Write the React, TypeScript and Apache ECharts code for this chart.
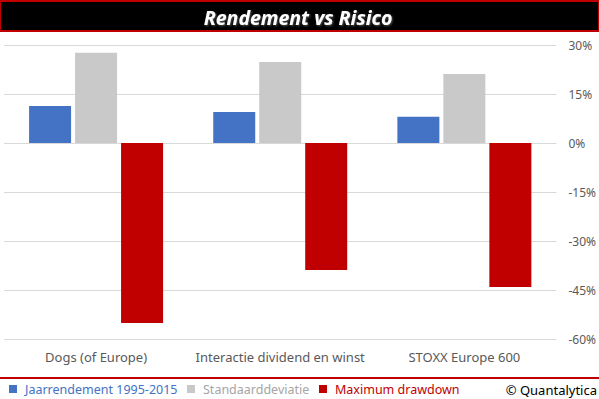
import React, { useEffect, useRef } from "react";
import * as echarts from "echarts";

const categories = ["Dogs (of Europe)", "Interactie dividend en winst", "STOXX Europe 600"];
const seriesNames = ["Jaarrendement 1995-2015", "Standaarddeviatie", "Maximum drawdown"];
const jaarrendement = [11.3, 9.5, 8.0];
const standaarddeviatie = [27.6, 24.8, 21.1];
const maxDrawdown = [-55.1, -38.9, -44.1];
const barColors = ["#4472c4", "#c9c9c9", "#c00000"];
const legendTextColors = ["#4472c4", "#a6a6a6", "#c00000"];
const legendLefts = [9, 187, 319];

const FONT = "'Noto Sans', 'Open Sans', sans-serif";

export default function App() {
  const ref = useRef<HTMLDivElement>(null);
  useEffect(() => {
    const chart = echarts.init(ref.current!, undefined, { renderer: "svg" });
    const values = [jaarrendement, standaarddeviatie, maxDrawdown];
    chart.setOption({
      animation: false,
      backgroundColor: "#ffffff",
      textStyle: { fontFamily: FONT },
      grid: { left: 4, right: 40, top: 45, bottom: 60 },
      xAxis: {
        type: "category",
        data: categories,
        axisLine: { show: false, onZero: false },
        axisTick: { show: false },
        axisLabel: { color: "#595959", fontSize: 13, margin: 11, interval: 0, fontFamily: FONT },
      },
      yAxis: {
        type: "value",
        position: "right",
        min: -60,
        max: 30,
        interval: 15,
        axisLine: { show: false },
        axisTick: { show: false },
        splitLine: { lineStyle: { color: "#d9d9d9", width: 1 } },
        axisLabel: {
          color: "#595959",
          fontSize: 12,
          margin: 12,
          fontFamily: FONT,
          formatter: (v: number) => `${v}%`,
        },
      },
      legend: seriesNames.map((n, i) => ({
        left: legendLefts[i],
        top: 381,
        padding: 0,
        itemWidth: 8,
        itemHeight: 8,
        icon: "rect",
        textStyle: { fontSize: 12.5, fontFamily: FONT, padding: [0, 0, 0, 3], lineHeight: 16, color: legendTextColors[i] },
        data: [n],
      })),
      series: seriesNames.map((name, i) => ({
        name,
        type: "bar",
        data: values[i],
        barWidth: 42,
        barGap: "9.5%",
        itemStyle: { color: barColors[i] },
      })),
      graphic: [
        { type: "rect", left: 0, top: 0, shape: { width: 599, height: 32 }, style: { fill: "#c00000" }, silent: true },
        { type: "rect", left: 1, top: 2, shape: { width: 597, height: 28 }, style: { fill: "#000000" }, silent: true },
        {
          type: "text",
          x: 298,
          y: 17,
          style: {
            text: "Rendement vs Risico",
            fill: "#ffffff",
            font: `italic bold 19.5px ${FONT}`,
            align: "center",
            verticalAlign: "middle",
            textShadowColor: "#555555",
            textShadowBlur: 2,
            textShadowOffsetX: 1,
            textShadowOffsetY: 1,
          },
        },
        { type: "rect", left: 0, top: 377, shape: { width: 599, height: 2 }, style: { fill: "#c00000" }, silent: true },
        {
          type: "text",
          x: 597,
          y: 390,
          style: {
            text: "© Quantalytica",
            fill: "#000000",
            font: `13px ${FONT}`,
            align: "right",
            verticalAlign: "middle",
          },
        },
      ],
    });
    return () => chart.dispose();
  }, []);
  return <div ref={ref} style={{ width: 599, height: 399, position: "absolute", left: 0, top: 0 }} />;
}
